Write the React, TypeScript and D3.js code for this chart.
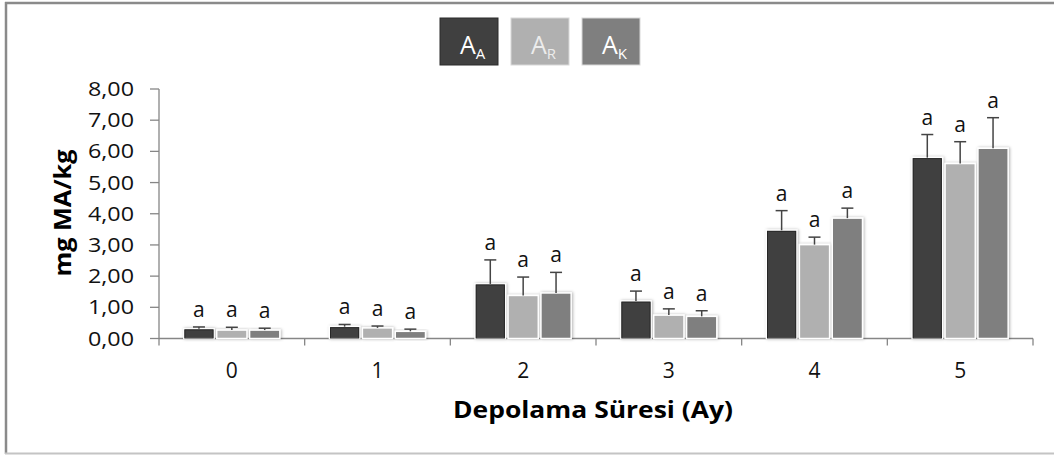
import React from "react";
import * as d3 from "d3";

const categories = ["0", "1", "2", "3", "4", "5"];
const seriesNames = ["A", "R", "K"];
const seriesColors = ["#404040", "#b0b0b0", "#7f7f7f"];
const valuesAA = [0.31, 0.38, 1.75, 1.2, 3.47, 5.8];
const valuesAR = [0.27, 0.34, 1.38, 0.75, 3.01, 5.61];
const valuesAK = [0.27, 0.23, 1.46, 0.71, 3.86, 6.1];
const errAA = [0.06, 0.07, 0.77, 0.32, 0.63, 0.74];
const errAR = [0.09, 0.06, 0.59, 0.2, 0.24, 0.7];
const errAK = [0.06, 0.07, 0.66, 0.18, 0.32, 0.98];
const letters = ["a", "a", "a", "a", "a", "a"];
const yTicks = [0, 1, 2, 3, 4, 5, 6, 7, 8];

const W = 1054;
const H = 455;

export default function App() {
  const x = d3.scaleBand<string>().domain(categories).range([159, 1033]).padding(0);
  const y = d3.scaleLinear().domain([0, 8]).range([338.5, 89]);
  const inner = d3.scaleBand<string>().domain(seriesNames).range([-48, 48]).paddingInner(0.08);
  const vals = [valuesAA, valuesAR, valuesAK];
  const errs = [errAA, errAR, errAK];
  const fmt = (v: number) => v.toFixed(2).replace(".", ",");
  const font = "'Open Sans', 'DejaVu Sans', sans-serif";
  const axisColor = "#868686";

  return (
    <svg width={W} height={H} style={{ position: "absolute", left: 0, top: 0 }} fontFamily={font}>
      <defs>
        <filter id="sh" x="-30%" y="-30%" width="160%" height="160%">
          <feDropShadow dx="1" dy="0" stdDeviation="1.5" floodColor="#000" floodOpacity="0.3" />
        </filter>
      </defs>
      <rect x={0} y={0} width={W} height={H} fill="#fff" />
      {/* outer frame */}
      <line x1={6} x2={6} y1={2} y2={454} stroke="#8a8a8a" strokeWidth={2.5} />
      <line x1={5} x2={W} y1={3} y2={3} stroke="#8a8a8a" strokeWidth={2.5} />
      <line x1={5} x2={W} y1={453.5} y2={453.5} stroke="#c4c4c4" strokeWidth={2} />

      {/* legend */}
      {seriesNames.map((s, i) => {
        const bx = 440 + i * 71;
        return (
          <g key={s}>
            <rect x={bx} y={18} width={58} height={47} fill={seriesColors[i]} stroke={i === 0 ? "#2a2a2a" : "#d8d8d8"} strokeWidth={1} />
            <text x={bx + 20} y={54} fontSize={25} fill={i === 1 ? "#ececec" : "#ffffff"} fontFamily={font}>
              A
              <tspan fontSize={15} dy={5}>{s}</tspan>
            </text>
          </g>
        );
      })}

      {/* y axis */}
      <line x1={159} x2={159} y1={y(8)} y2={y(0)} stroke={axisColor} strokeWidth={1.3} />
      {yTicks.map((t) => (
        <g key={t}>
          <line x1={150} x2={159} y1={y(t)} y2={y(t)} stroke={axisColor} strokeWidth={1.3} />
          <text x={134} y={y(t) + 7} textAnchor="end" fontSize={20.5} fill="#111" textLength={46} lengthAdjust="spacingAndGlyphs">
            {fmt(t)}
          </text>
        </g>
      ))}
      <text
        transform={`translate(71,${213}) rotate(-90)`}
        textAnchor="middle"
        fontSize={24}
        fontWeight="bold"
        fill="#000"
        textLength={127}
        lengthAdjust="spacingAndGlyphs"
      >
        mg MA/kg
      </text>

      {/* x axis */}
      <line x1={159} x2={1033} y1={y(0)} y2={y(0)} stroke={axisColor} strokeWidth={1.3} />
      {[...categories.map((c) => x(c) as number), 1033].map((px, i) => (
        <line key={i} x1={px} x2={px} y1={y(0)} y2={y(0) + 7} stroke={axisColor} strokeWidth={1.3} />
      ))}
      {categories.map((c) => (
        <text key={c} x={(x(c) as number) + x.bandwidth() / 2} y={378} textAnchor="middle" fontSize={21} fill="#111">
          {c}
        </text>
      ))}
      <text x={593} y={418} textAnchor="middle" fontSize={22.5} fontWeight="bold" fill="#000" textLength={280} lengthAdjust="spacingAndGlyphs">
        Depolama Süresi (Ay)
      </text>

      {/* bars */}
      {categories.map((c, ci) => {
        const cx = (x(c) as number) + x.bandwidth() / 2;
        return (
          <g key={c}>
            {seriesNames.map((s, si) => {
              const v = vals[si][ci];
              const e = errs[si][ci];
              const bx = cx + (inner(s) as number);
              const bw = inner.bandwidth();
              const mid = bx + bw / 2;
              return (
                <g key={s}>
                  <rect
                    x={bx}
                    y={y(v)}
                    width={bw}
                    height={y(0) - y(v)}
                    fill={seriesColors[si]}
                    stroke="#ffffff"
                    strokeWidth={1.5}
                    filter="url(#sh)"
                  />
                  {si === 0 && (
                    <rect x={bx + 1} y={y(v) + 1} width={bw - 2} height={y(0) - y(v) - 1.5} fill="none" stroke="#262626" strokeWidth={1} />
                  )}
                  <line x1={mid} x2={mid} y1={y(v)} y2={y(v + e)} stroke="#444" strokeWidth={1.5} />
                  <line x1={mid - 6} x2={mid + 6} y1={y(v + e)} y2={y(v + e)} stroke="#444" strokeWidth={1.5} />
                  <text x={mid} y={y(v + e) - 10} textAnchor="middle" fontSize={21} fill="#111">
                    {letters[ci]}
                  </text>
                </g>
              );
            })}
          </g>
        );
      })}
    </svg>
  );
}
